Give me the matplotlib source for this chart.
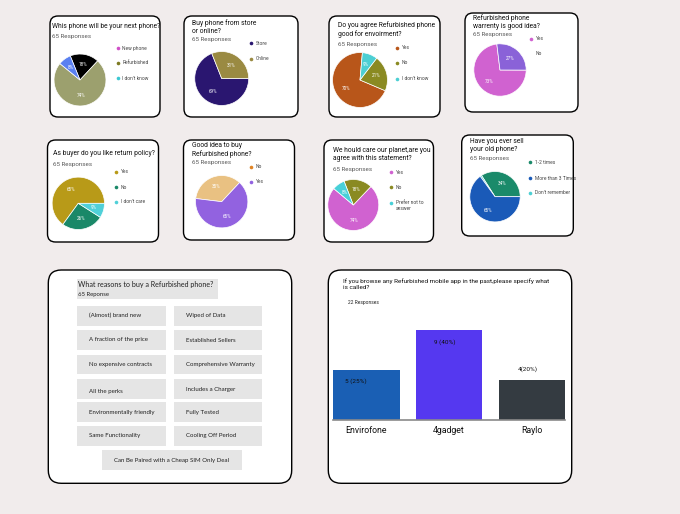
import matplotlib
matplotlib.use('Agg')
import matplotlib.pyplot as plt
from matplotlib.patches import FancyBboxPatch, Rectangle

# ---------------- data ----------------
q1_title = "Whis phone will be your next phone?"
q1_labels = ["New phone", "Refurbished", "I don't know"]
q1_values = [18, 74, 8]

q2_title = "Buy phone from store\nor online?"
q2_labels = ["Store", "Online"]
q2_values = [69, 31]

q3_title = "Do you agree Refurbished phone\ngood for envoirment?"
q3_labels = ["Yes", "No", "I don't know"]
q3_values = [70, 21, 9]

q4_title = "Refurbished phone\nwarrenty is good idea?"
q4_labels = ["Yes", "No"]
q4_values = [73, 27]

q5_title = "As buyer do you like return policy?"
q5_labels = ["Yes", "No", "I don't care"]
q5_values = [65, 26, 9]

q6_title = "Good idea to buy\nRefurbished phone?"
q6_labels = ["No", "Yes"]
q6_values = [35, 65]

q7_title = "We hould care our planet,are you\nagree with this statement?"
q7_labels = ["Yes", "No", "Prefer not to\nanswer"]
q7_values = [74, 18, 8]

q8_title = "Have you ever sell\nyour old phone?"
q8_labels = ["1-2 times", "More than 3 Times", "Don't remember"]
q8_values = [34, 65, 1]

responses_text = "65 Responses"

reasons_title = "What reasons to buy a Refurbished phone?"
reasons_sub = "65 Reponse"
reasons_left = ["(Almost) brand new", "A fraction of the price", "No expensive contracts",
                "All the perks", "Environmentally friendly", "Same Functionality"]
reasons_right = ["Wiped of Data", "Established Sellers", "Comprehensive Warranty",
                 "Includes a Charger", "Fully Tested", "Cooling Off Period"]
reasons_bottom = "Can Be Paired with a Cheap SIM Only Deal"

bar_title = "If you browse any Refurbished mobile app in the past,please specify what\nis called?"
bar_sub = "22 Responses"
bar_categories = ["Envirofone", "4gadget", "Raylo"]
bar_values = [5, 9, 4]
bar_value_labels = ["5 (25%)", "9 (40%)", "4(20%)"]

# ---------------- style / layout ----------------
W, H = 680, 514
BG = '#f1ecec'
TFONT = ['Roboto', 'DejaVu Sans']
RFONT = ['Lato', 'DejaVu Sans']

pies = [
    dict(title=q1_title, labels=q1_labels, values=q1_values,
         pc=['#000000', '#9ca06e', '#5a80f0'], lc=['#d050c8', '#7d7a22', '#3cc8d2'],
         start=112, ccw=False, order=[0, 1, 2],
         box=(50, 16, 160, 117), ty=26, tx=52.5, ry=36.5, c=(80, 80), r=26.5,
         lx=117.5, ly=[48.3, 62.7, 78.3]),
    dict(title=q2_title, labels=q2_labels, values=q2_values,
         pc=['#2a1670', '#9a8a42'], lc=['#2a1670', '#9a8a42'],
         start=0, ccw=False, order=[0, 1],
         box=(184, 16, 298, 117), ty=27, tx=192.5, ry=39.3, c=(221.7, 78.5), r=27.5,
         lx=250.7, ly=[43.3, 59]),
    dict(title=q3_title, labels=q3_labels, values=q3_values,
         pc=['#b8561a', '#8a8a22', '#4ccfd3'], lc=['#b8561a', '#8a8a22', '#4ccfd3'],
         start=85, ccw=True, order=[0, 1, 2],
         box=(329, 16, 440, 117), ty=29.5, tx=337.7, ry=44.3, c=(360, 80), r=28,
         lx=396.7, ly=[47.7, 62.7, 79]),
    dict(title=q4_title, labels=q4_labels, values=q4_values,
         pc=['#d062d0', '#8a62d8'], lc=['#d062d0', None],
         start=97, ccw=True, order=[0, 1],
         box=(465, 13, 578, 112), ty=22, tx=472.7, ry=34.3, c=(500, 70), r=26.7,
         lx=531, ly=[39, 53.3]),
    dict(title=q5_title, labels=q5_labels, values=q5_values,
         pc=['#b89a18', '#1a8868', '#50d0d8'], lc=['#b89a18', '#1a8868', '#50d0d8'],
         start=0, ccw=True, order=[0, 1, 2],
         box=(47.5, 140, 158.5, 242), ty=153.3, tx=52.7, ry=164.3, c=(78.3, 203.3), r=26.7,
         lx=116, ly=[171.7, 187.3, 201.7]),
    dict(title=q6_title, labels=q6_labels, values=q6_values,
         pc=['#e9c182', '#9262e0'], lc=['#e08424', '#9262e0'],
         start=173, ccw=False, order=[0, 1],
         box=(183.5, 140, 294.5, 240), ty=149.7, tx=191.7, ry=162.7, c=(221.7, 201.7), r=26.7,
         lx=251, ly=[166.7, 181.7]),
    dict(title=q7_title, labels=q7_labels, values=q7_values,
         pc=['#d062d0', '#8a8a22', '#48d0d8'], lc=['#d062d0', '#8a8a22', '#48d0d8'],
         start=140, ccw=True, order=[0, 1, 2],
         box=(324, 140, 433.5, 242), ty=154.2, tx=332.7, ry=169.3, c=(353.3, 205), r=26,
         lx=391, ly=[172.3, 187.3, 202.7]),
    dict(title=q8_title, labels=q8_labels, values=q8_values,
         pc=['#1a8a6a', '#1a5ab8', '#4ccfd3'], lc=['#1a8a6a', '#1a5ab8', '#4ccfd3'],
         start=0, ccw=True, order=[0, 2, 1],
         box=(461.7, 135, 573.3, 236), ty=145.5, tx=470, ry=158.3, c=(495, 196.7), r=25.7,
         lx=530, ly=[162.3, 178.3, 192.7]),
]

fig = plt.figure(figsize=(W / 100, H / 100), dpi=100)
fig.patch.set_facecolor(BG)
bg = fig.add_axes([0, 0, 1, 1])
bg.set_xlim(0, W)
bg.set_ylim(H, 0)
bg.axis('off')


def panel(x0, y0, x1, y1, rad):
    bg.add_patch(FancyBboxPatch((x0, y0), x1 - x0, y1 - y0,
                                boxstyle=f'round,pad=0,rounding_size={rad}',
                                fc='white', ec='black', lw=1.0))


for p in pies:
    x0, y0, x1, y1 = p['box']
    panel(x0, y0, x1, y1, 8)
    bg.text(p['tx'], p['ty'], p['title'], fontsize=4.85, family=TFONT, color='#111111',
            va='center', ha='left', linespacing=1.15)
    bg.text(p['tx'], p['ry'], responses_text, fontsize=4.5, family=TFONT, color='#5a5a5a',
            va='center', ha='left')
    for lab, col, yy in zip(p['labels'], p['lc'], p['ly']):
        if col is not None:
            bg.plot([p['lx']], [yy], 'o', ms=2.6, color=col, mec='none')
        lines = lab.split('\n')
        bg.text(p['lx'] + 5, yy, lines[0], fontsize=3.5, family=TFONT, color='#444444',
                va='center', ha='left')
        for k, extra in enumerate(lines[1:]):
            bg.text(p['lx'] + 5, yy + 5.5 * (k + 1), extra, fontsize=3.5, family=TFONT,
                    color='#444444', va='center', ha='left')
    cx, cy = p['c']
    r = p['r']
    ax = fig.add_axes([(cx - r) / W, 1 - (cy + r) / H, 2 * r / W, 2 * r / H])
    vals = [p['values'][i] for i in p['order']]
    cols = [p['pc'][i] for i in p['order']]
    ax.pie(vals, colors=cols, startangle=p['start'], counterclock=p['ccw'],
           autopct=lambda v: f'{v:.0f}%' if v >= 3 else '', pctdistance=0.6,
           textprops=dict(color='white', fontsize=3.3, family=TFONT),
           wedgeprops=dict(edgecolor='white', linewidth=0.5))
    ax.set_xlim(-1.02, 1.02)
    ax.set_ylim(-1.02, 1.02)
    ax.axis('off')

# ---------- reasons panel ----------
panel(48.3, 270, 291.7, 483.3, 13)
GRAY = '#e5e5e5'
bg.add_patch(Rectangle((76.7, 279), 141.6, 20.3, fc=GRAY, ec='none'))
bg.text(77.7, 284.3, reasons_title, fontsize=5.1, family=RFONT, color='#222222', va='center')
bg.text(78.3, 294.8, reasons_sub, fontsize=4.3, family=RFONT, color='#222222', va='center')
rows = [(305.7, 325.7), (330, 350), (355, 374.3), (379, 399), (402.3, 422.3), (426, 446)]
left_ty = [315.7, 340, 364.3, 391, 412.3, 436]
right_ty = [315.7, 340, 364.3, 389, 412.3, 436]
for (ya, yb), tl, tr, a, b in zip(rows, left_ty, right_ty, reasons_left, reasons_right):
    bg.add_patch(Rectangle((77.3, ya), 88.4, yb - ya, fc=GRAY, ec='none'))
    bg.add_patch(Rectangle((174, ya), 88.3, yb - ya, fc=GRAY, ec='none'))
    bg.text(89.3, tl, a, fontsize=4.45, family=RFONT, color='#222222', va='center')
    bg.text(185.7, tr, b, fontsize=4.45, family=RFONT, color='#222222', va='center')
bg.add_patch(Rectangle((102.3, 450), 139.4, 20, fc=GRAY, ec='none'))
bg.text(172, 460.7, reasons_bottom, fontsize=4.45, family=RFONT, color='#222222',
        va='center', ha='center')

# ---------- bar panel ----------
panel(328.3, 270, 571.7, 483.3, 13)
bg.text(343.3, 283.8, bar_title, fontsize=4.55, family=TFONT, color='#111111',
        va='center', linespacing=1.2)
bg.text(347.7, 302.3, bar_sub, fontsize=3.5, family=TFONT, color='#222222', va='center')

bx0, bx1, by0, by1 = 333.3, 565, 320, 420
bax = fig.add_axes([bx0 / W, 1 - by1 / H, (bx1 - bx0) / W, (by1 - by0) / H])
bar_colors = ['#1a5fb4', '#5538f0', '#343b41']
xs = list(range(len(bar_categories)))
bax.bar(xs, bar_values, width=0.8, color=bar_colors, edgecolor='none')
bax.set_xlim(-0.4, 2.4)
bax.set_ylim(0, 10)
bax.set_facecolor('none')
for s in ['top', 'right', 'left']:
    bax.spines[s].set_visible(False)
bax.spines['bottom'].set_color('#8a8a8a')
bax.spines['bottom'].set_linewidth(1.2)
bax.set_yticks([])
bax.set_xticks(xs)
bax.set_xticklabels(bar_categories, fontsize=6.3, family=TFONT, color='#111111')
bax.tick_params(axis='x', length=0, pad=4)
label_off = [(-0.26, -1.1), (-0.18, -1.23), (-0.17, 1.1)]
for i, (v, lab) in enumerate(zip(bar_values, bar_value_labels)):
    dx, dy = label_off[i]
    bax.text(i + dx, v + dy, lab, fontsize=4.6, family=TFONT, color='#111111',
             va='center', ha='left')

fig.savefig('out.png', dpi=100, facecolor=BG)
